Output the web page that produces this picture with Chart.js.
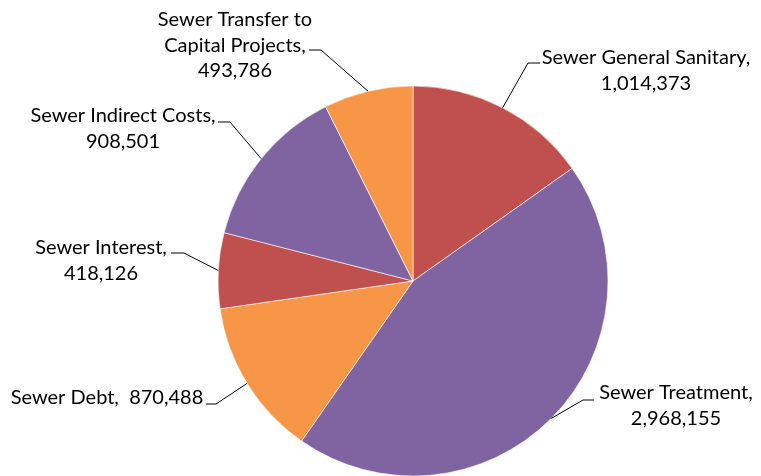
<!DOCTYPE html>
<html>
<head>
<meta charset="utf-8">
<script src="https://cdn.jsdelivr.net/npm/chart.js@4"></script>
<style>
  html, body { margin: 0; padding: 0; background: #ffffff; }
  #wrap { width: 761px; height: 476px; position: relative; }
</style>
</head>
<body>
<div id="wrap"><canvas id="c" width="761" height="476"></canvas></div>
<script>
// Sewer fund expenditures by category
const categories = [
  'Sewer General Sanitary',
  'Sewer Treatment',
  'Sewer Debt',
  'Sewer Interest',
  'Sewer Indirect Costs',
  'Sewer Transfer to Capital Projects'
];
const amounts = [1014373, 2968155, 870488, 418126, 908501, 493786];
const sliceColors = ['#C0504D', '#8064A2', '#F79646', '#C0504D', '#8064A2', '#F79646'];

// How each category name wraps in its label
const labelNameLines = [
  ['Sewer General Sanitary,'],
  ['Sewer Treatment,'],
  ['Sewer Debt,  '],
  ['Sewer Interest,'],
  ['Sewer Indirect Costs,'],
  ['Sewer Transfer to', 'Capital Projects,']
];
const valueOnSameLine = [false, false, true, false, false, false];

// Label placement: text centre x, first-line centre y, leader stub (x start, x end, y)
const labelLayout = [
  { cx: 646, cy: 58,  stub: [540, 528, 63] },
  { cx: 676, cy: 393, stub: [594, 583, 400] },
  { cx: 107, cy: 398, stub: [206, 216, 404] },
  { cx: 101, cy: 248, stub: [171, 184, 253] },
  { cx: 123, cy: 116, stub: [218, 230, 122] },
  { cx: 235, cy: 20,  stub: [309, 321, 50] }
];

const FONT = '20px Lato, "Open Sans", sans-serif';
const LINE_H = 25.5;

const fmt = v => v.toLocaleString('en-US');

const leaderLabels = {
  id: 'leaderLabels',
  afterDatasetsDraw(chart) {
    const ctx = chart.ctx;
    const meta = chart.getDatasetMeta(0);
    ctx.save();
    meta.data.forEach((arc, i) => {
      const p = arc.getProps(['x', 'y', 'startAngle', 'endAngle', 'outerRadius'], true);
      const mid = (p.startAngle + p.endAngle) / 2;
      const ex = p.x + Math.cos(mid) * p.outerRadius;
      const ey = p.y + Math.sin(mid) * p.outerRadius;
      const L = labelLayout[i];

      // leader line
      ctx.strokeStyle = '#000000';
      ctx.lineWidth = 1;
      ctx.beginPath();
      ctx.moveTo(L.stub[0], L.stub[2]);
      ctx.lineTo(L.stub[1], L.stub[2]);
      ctx.lineTo(ex, ey);
      ctx.stroke();

      // label text
      const lines = labelNameLines[i].slice();
      const val = fmt(chart.data.datasets[0].data[i]);
      if (valueOnSameLine[i]) lines[lines.length - 1] += val;
      else lines.push(val);
      ctx.fillStyle = '#000000';
      ctx.font = FONT;
      ctx.textAlign = 'center';
      ctx.textBaseline = 'middle';
      lines.forEach((t, k) => ctx.fillText(t, L.cx, L.cy + k * LINE_H));
    });
    ctx.restore();
  }
};

new Chart(document.getElementById('c'), {
  type: 'pie',
  data: {
    labels: categories,
    datasets: [{
      data: amounts,
      backgroundColor: sliceColors,
      borderColor: '#ffffff',
      borderWidth: 0.6,
      radius: 195
    }]
  },
  options: {
    responsive: false,
    animation: false,
    rotation: 0,
    layout: { padding: { left: 65, right: 0, top: 86, bottom: 0 } },
    plugins: {
      legend: { display: false },
      tooltip: { enabled: false }
    }
  },
  plugins: [leaderLabels]
});
</script>
</body>
</html>
